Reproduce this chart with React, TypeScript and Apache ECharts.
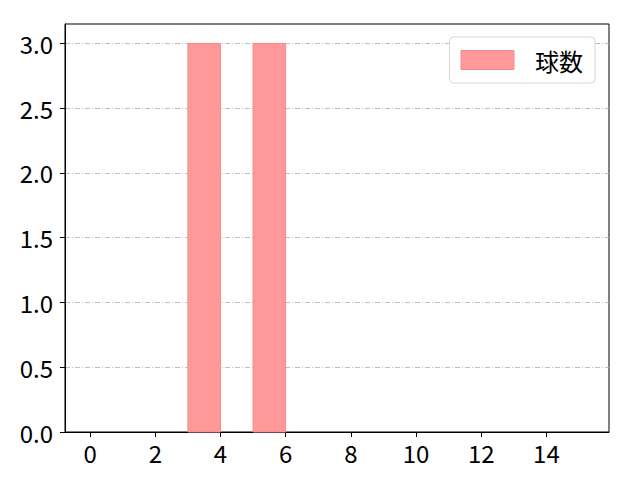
import React, { useEffect, useRef } from "react";
import * as echarts from "echarts";

const binStarts = [3, 5];
const binEnds = [4, 6];
const counts = [3, 3];
const xTickValues = [0, 2, 4, 6, 8, 10, 12, 14];
const yTickValues = [0, 0.5, 1.0, 1.5, 2.0, 2.5, 3.0];
const seriesName = "球数";

const FONT = "'Noto Sans CJK JP', 'Noto Sans', sans-serif";
const TICK_FS = 24;

export default function App() {
  const ref = useRef<HTMLDivElement>(null);
  useEffect(() => {
    document.body.style.margin = "0";
    const chart = echarts.init(ref.current!, null, { renderer: "svg" });
    const data = binStarts.map((s, i) => [s, binEnds[i], counts[i]]);
    chart.setOption({
      animation: false,
      backgroundColor: "#fff",
      grid: {
        left: 65,
        right: 31,
        top: 24,
        bottom: 48,
        show: true,
        borderColor: "#000",
        borderWidth: 1,
        backgroundColor: "transparent",
        containLabel: false,
      },
      legend: {
        show: true,
        right: 45,
        top: 37,
        orient: "vertical",
        backgroundColor: "#fff",
        borderColor: "#d6d6d6",
        borderWidth: 1,
        borderRadius: 4,
        padding: [11, 12, 11, 11],
        itemWidth: 53,
        itemHeight: 19,
        icon: "rect",
        textStyle: {
          fontFamily: FONT,
          fontSize: 24,
          color: "#000",
          padding: [0, 0, 0, 16],
        },
        data: [
          {
            name: seriesName,
            itemStyle: { color: "#ff9999", borderColor: "#f58a8a", borderWidth: 1 },
          },
        ],
      },
      xAxis: {
        type: "value",
        min: -0.77,
        max: 15.92,
        axisLine: { show: true, onZero: false, lineStyle: { color: "#000", width: 1 } },
        axisTick: {
          show: true,
          length: 5,
          inside: false,
          customValues: xTickValues,
          lineStyle: { color: "#000", width: 1 },
        },
        axisLabel: {
          show: true,
          customValues: xTickValues,
          fontFamily: FONT,
          fontSize: TICK_FS,
          color: "#000",
          margin: 8,
        },
        splitLine: { show: false },
      },
      yAxis: {
        type: "value",
        min: 0,
        max: 3.15,
        interval: 0.5,
        axisLine: { show: true, onZero: false, lineStyle: { color: "#000", width: 1 } },
        axisTick: {
          show: true,
          length: 5,
          inside: false,
          customValues: yTickValues,
          lineStyle: { color: "#000", width: 1 },
        },
        axisLabel: {
          show: true,
          customValues: yTickValues,
          fontFamily: FONT,
          fontSize: TICK_FS,
          color: "#000",
          margin: 12,
          formatter: (v: number) => v.toFixed(1),
        },
        splitLine: {
          show: true,
          lineStyle: { color: "#b0b0b0", width: 0.8, type: [5, 2, 1, 2] },
        },
      },
      series: [
        {
          name: seriesName,
          type: "custom",
          itemStyle: { color: "#ff9999", borderColor: "#f58a8a", borderWidth: 1 },
          encode: { x: [0, 1], y: 2 },
          renderItem: (params: any, api: any) => {
            const p0 = api.coord([api.value(0), api.value(2)]);
            const p1 = api.coord([api.value(1), 0]);
            return {
              type: "rect",
              shape: { x: p0[0], y: p0[1], width: p1[0] - p0[0], height: p1[1] - p0[1] },
              style: { fill: "#ff9999", stroke: "#f58a8a", lineWidth: 1 },
            };
          },
          data,
          z: 3,
        },
      ],
    });
    return () => chart.dispose();
  }, []);
  return <div ref={ref} style={{ width: 640, height: 480 }} />;
}
